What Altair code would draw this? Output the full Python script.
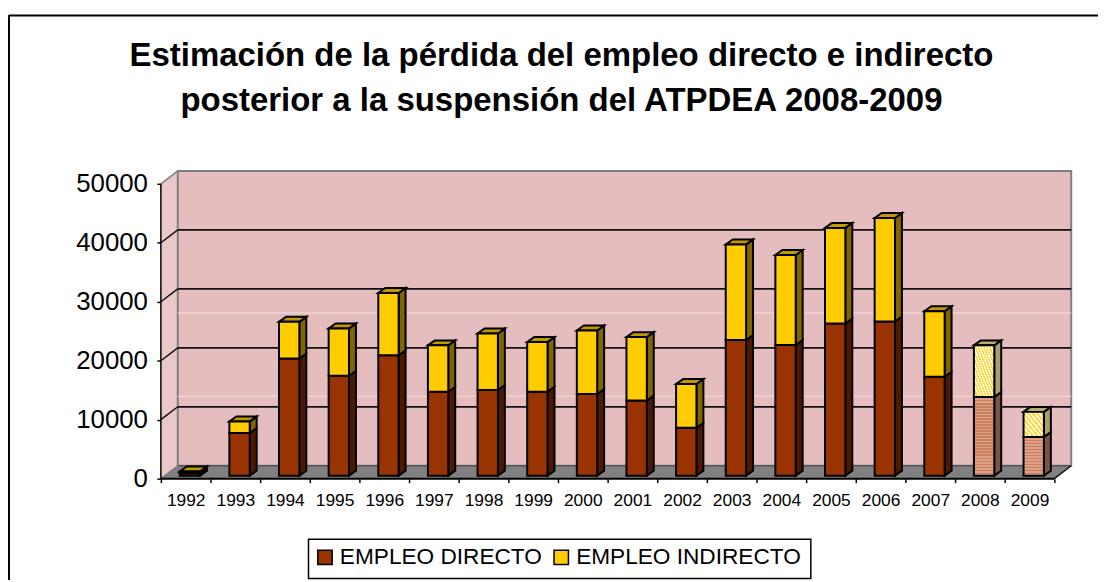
import altair as alt
import pandas as pd

# ---- values
years = list(range(1992, 2010))
directo = [400, 7240, 19870, 16940, 20420, 14240, 14530, 14240, 13860, 12730,
           8130, 23000, 22160, 25810, 26150, 16770, 13350, 6570]
total = [720, 9200, 26090, 24970, 30980, 22100, 24120, 22660, 24630, 23500,
         15540, 39220, 37420, 42020, 43700, 27880, 22100, 10820]
indirecto = [t - d for t, d in zip(total, directo)]
estimated_years = [2008, 2009]
y_ticks = [0, 10000, 20000, 30000, 40000, 50000]
series_names = ["EMPLEO DIRECTO", "EMPLEO INDIRECTO"]
pale_lines = [13970, 28110]

title_lines = ["Estimación de la pérdida del empleo directo e indirecto",
               "posterior a la suspensión del ATPDEA 2008-2009"]

FONT = "Liberation Sans"
BROWN, YELLOW = "#993300", "#FFCC00"
BROWN_SIDE, YELLOW_SIDE = "#4D1A00", "#806600"
YELLOW_TOP = "#BF9900"
WALL, WALL_SIDE, FLOOR = "#E6BDBF", "#EBC8C8", "#808080"

# ---- pseudo-3D geometry: scale factors
PX_X = 1 / 50          # years per pixel
PX_Y = 1 / 0.00594     # units per pixel
W, H = 917, 310
x0 = 1991.5
xs = alt.Scale(domain=[x0, x0 + W * PX_X], nice=False, zero=False)
ys = alt.Scale(domain=[0, H * PX_Y], nice=False, zero=False)
WALL_DX, WALL_DY = 17 * PX_X, 13 * PX_Y
BAR_DX, BAR_DY = 7 * PX_X, 5 * PX_Y
BAR_L, BAR_R = 19 * PX_X, 39.5 * PX_X
BASE = 3 * PX_Y
xlast = x0 + len(years)


def X(f="x", **k):
    return alt.X(f, type="quantitative", scale=xs, axis=None, **k)


def Y(f="y", **k):
    return alt.Y(f, type="quantitative", scale=ys, axis=None, **k)


layers = []

# side wall, back wall, floor
sw = pd.DataFrame({"x": [x0, x0 + WALL_DX], "y": [0, WALL_DY],
                   "y2": [50000, 50000 + WALL_DY]})
layers.append(alt.Chart(sw).mark_area(color=WALL_SIDE).encode(
    x=X(), y=Y(), y2="y2"))
bw = pd.DataFrame({"x": [x0 + WALL_DX], "x2": [xlast + WALL_DX], "y": [WALL_DY],
                   "y2": [50000 + WALL_DY]})
layers.append(alt.Chart(bw).mark_rect(fill=WALL, stroke="#808080", strokeWidth=2).encode(
    x=X(), x2="x2", y=Y(), y2="y2"))
fl = pd.DataFrame({"y": [0, WALL_DY], "x": [x0, x0 + WALL_DX], "x2": [xlast, xlast + WALL_DX]})
layers.append(alt.Chart(fl).mark_area(color=FLOOR, orient="horizontal").encode(
    y=Y(), x=X(), x2="x2"))
# floor far edge
layers.append(alt.Chart(bw).mark_rule(color="#555555", strokeWidth=1.5).encode(
    x=X(), x2="x2", y=Y()))

# pale streaks in the wall texture
pl = pd.DataFrame({"y": pale_lines, "x": x0 + WALL_DX, "x2": xlast + WALL_DX})
layers.append(alt.Chart(pl).mark_rule(color="#F3DEDE", strokeWidth=1).encode(
    x=X(), x2="x2", y=Y()))

# gridlines
gv = [v for v in y_ticks if 0 < v < 50000]
gb = pd.DataFrame({"y": [v + WALL_DY for v in gv], "x": x0 + WALL_DX, "x2": xlast + WALL_DX})
layers.append(alt.Chart(gb).mark_rule(color="#111111", strokeWidth=1.8).encode(
    x=X(), x2="x2", y=Y()))
rows = []
for v in y_ticks:
    rows += [{"g": v, "x": x0, "y": v}, {"g": v, "x": x0 + WALL_DX, "y": v + WALL_DY}]
gd = pd.DataFrame(rows)
layers.append(alt.Chart(gd[gd.g.between(1, 40000)]).mark_line(color="#111111", strokeWidth=1.5).encode(
    x=X(), y=Y(), detail="g:N"))
layers.append(alt.Chart(gd[gd.g.isin([0, 50000])]).mark_line(color="#808080", strokeWidth=1.5).encode(
    x=X(), y=Y(), detail="g:N"))
rd = pd.DataFrame({"x": [xlast, xlast + WALL_DX], "y": [0, WALL_DY]})
layers.append(alt.Chart(rd).mark_line(color="#111111", strokeWidth=1.5).encode(x=X(), y=Y()))


# bar geometry tables
front, side, top = [], [], []
for yr, d, i in zip(years, directo, indirecto):
    l = yr - 0.5 + BAR_L
    r = yr - 0.5 + BAR_R
    for name, lo, hi in ((series_names[0], 0, d), (series_names[1], d, d + i)):
        est = yr in estimated_years
        front.append({"year": yr, "serie": name, "x": l, "x2": r, "y": BASE + lo, "y2": BASE + hi, "est": est})
        side += [
            {"k": f"{yr}{name}", "year": yr, "serie": name, "est": est, "x": r, "y": BASE + lo, "y2": BASE + hi},
            {"k": f"{yr}{name}", "year": yr, "serie": name, "est": est, "x": r + BAR_DX, "y": BASE + lo + BAR_DY, "y2": BASE + hi + BAR_DY},
        ]
    top += [
        {"k": yr, "est": yr in estimated_years, "y": BASE + d + i, "x": l, "x2": r},
        {"k": yr, "est": yr in estimated_years, "y": BASE + d + i + BAR_DY, "x": l + BAR_DX, "x2": r + BAR_DX},
    ]
front, side, top = pd.DataFrame(front), pd.DataFrame(side), pd.DataFrame(top)

BS = dict(stroke="#000000", strokeWidth=2)

# solid side and top faces
for est, cols, tc in ((False, (BROWN_SIDE, YELLOW_SIDE), YELLOW_TOP),
                      (True, ("#7A5546", "#A8A06E"), "#B8AC6A")):
    for name, c in zip(series_names, cols):
        layers.append(alt.Chart(side[(side.serie == name) & (side.est == est)]).mark_area(
            color=c, **BS).encode(x=X(), y=Y(), y2="y2", detail="k:N"))
    layers.append(alt.Chart(top[top.est == est]).mark_area(
        color=tc, orient="horizontal", **BS).encode(y=Y(), x=X(), x2="x2", detail="k:N"))

# solid front faces carry the legend
layers.append(alt.Chart(front[~front.est]).mark_rect(**BS).encode(
    x=alt.X("x", type="quantitative", scale=xs, axis=alt.Axis(
        values=[x0 + k for k in range(len(years) + 1)],
        labelExpr="datum.value < 1992 ? '' : format(datum.value - 0.5, 'd')",
        labelOffset=-25, labelFont=FONT, labelFontSize=17.5, labelColor="#000000",
        labelOverlap=False, labelFlush=False, labelBound=False, labelPadding=9,
        tickColor="#000000", tickSize=4, tickWidth=1.5, domain=False, grid=False, title=None)),
    x2="x2",
    y=alt.Y("y", type="quantitative", scale=ys, axis=alt.Axis(
        values=y_ticks, format="d", labelFont=FONT, labelFontSize=26, labelColor="#000000",
        labelPadding=9.5, labelOverlap=False, labelFlush=False, labelBound=False,
        tickColor="#000000", tickSize=4, tickWidth=1.5, domain=False, grid=False, title=None)),
    y2="y2",
    color=alt.Color("serie:N", scale=alt.Scale(domain=series_names, range=[BROWN, YELLOW]),
                    legend=alt.Legend(orient="none", legendX=153.9, legendY=377.5, direction="horizontal",
                                      columns=2, title=None, symbolType="square", symbolSize=210,
                                      symbolStrokeColor="#000000", symbolStrokeWidth=1.5,
                                      labelFont=FONT, labelFontSize=22.8, labelColor="#000000",
                                      labelLimit=400, padding=0, columnPadding=8, labelOffset=3.6)),
))


def stripes(c1, c2, n, x1, y1, x2, y2):
    stops = []
    for k in range(n):
        a, b = k / n, (k + 1) / n
        c = c1 if k % 2 == 0 else c2
        stops += [alt.GradientStop(offset=a, color=c), alt.GradientStop(offset=b, color=c)]
    return alt.LinearGradient(gradient="linear", stops=stops, x1=x1, y1=y1, x2=x2, y2=y2)


# textured front faces of the estimated years
for yr in estimated_years:
    f = front[front.year == yr]
    for name in series_names:
        row = f[f.serie == name]
        h = float((row.y2 - row.y).iloc[0]) / PX_Y
        if name == series_names[0]:
            fill = stripes("#CC8060", "#DCA186", max(4, int(h / 1.5)), 0, 0, 0, 1)
        else:
            fill = stripes("#FFD633", "#FFFBE6", max(6, int((h + 20) / 2.5)), 0, 1, 1, 0)
        layers.append(alt.Chart(row).mark_rect(fill=fill, stroke="#000000", strokeWidth=2).encode(
            x=X(), x2="x2", y=Y(), y2="y2"))

# axis lines
ya = pd.DataFrame({"x": [x0], "y": [0], "y2": [50000]})
layers.append(alt.Chart(ya).mark_rule(color="#000000", strokeWidth=1.5).encode(x=X(), y=Y(), y2="y2"))
xa = pd.DataFrame({"x": [x0], "x2": [xlast], "y": [0]})
layers.append(alt.Chart(xa).mark_rule(color="#000000", strokeWidth=2).encode(x=X(), x2="x2", y=Y()))

# outer frame: only the top and left edges fall inside the picture
fr = pd.DataFrame({"a": [0]})
layers.append(alt.Chart(fr).mark_rule(color="#000000", strokeWidth=2).encode(
    x=alt.value(-153), x2=alt.value(944), y=alt.value(-156.5)))
layers.append(alt.Chart(fr).mark_rule(color="#000000", strokeWidth=2).encode(
    x=alt.value(-153), y=alt.value(-157), y2=alt.value(412)))
# legend box
layers.append(alt.Chart(fr).mark_rect(fillOpacity=0, stroke="#000000", strokeWidth=1.5).encode(
    x=alt.value(148.7), x2=alt.value(654.7), y=alt.value(371), y2=alt.value(410.7)))

chart = alt.layer(*layers).resolve_axis(x="independent", y="independent").properties(
    width=W, height=H,
    padding={"left": 154, "top": 162, "right": 27, "bottom": 102},
    autosize=alt.AutoSizeParams(type="none"),
    background="#FFFFFF",
    title=alt.TitleParams(text=title_lines, font=FONT, fontSize=33.2, fontWeight="bold", color="#000000",
                          anchor="middle", dx=-55, offset=-104.7, lineHeight=45),
).configure_view(stroke=None)

chart.save("out.html", embed_options={"renderer": "svg", "actions": False})
